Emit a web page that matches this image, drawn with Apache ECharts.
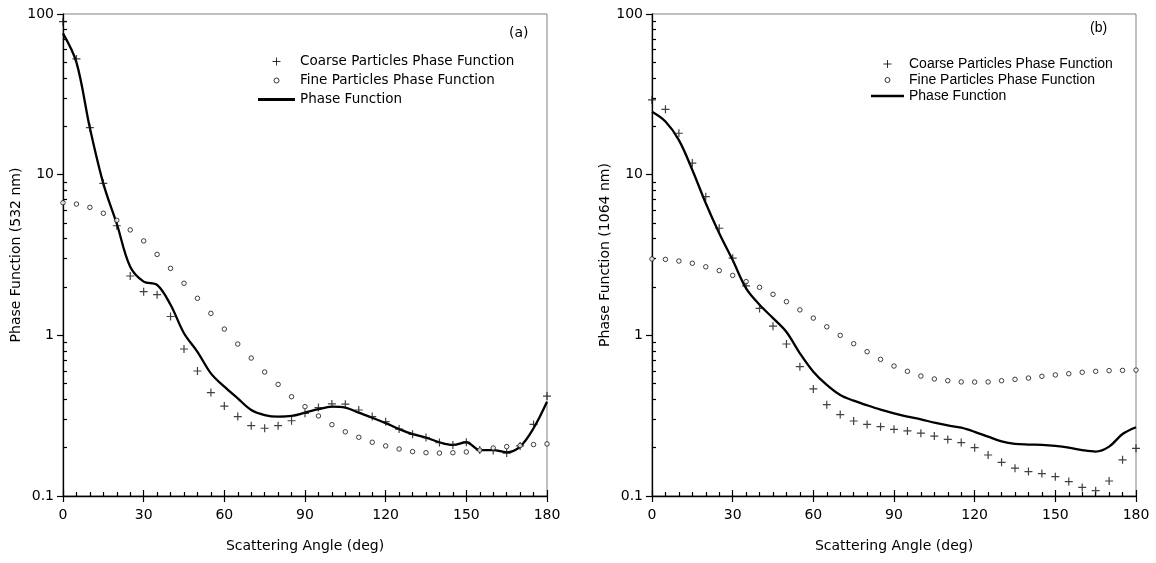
<!DOCTYPE html>
<html><head><meta charset="utf-8">
<script src="https://cdn.jsdelivr.net/npm/echarts@6/dist/echarts.min.js"></script>
<style>html,body{margin:0;padding:0;background:#fff}#c{width:1156px;height:563px}</style>
</head><body><div id="c"></div>
<script>
const angles = [0,5,10,15,20,25,30,35,40,45,50,55,60,65,70,75,80,85,90,95,100,105,110,115,120,125,130,135,140,145,150,155,160,165,170,175,180];
const coarse532 = [89.6,52.5,19.6,8.83,4.81,2.34,1.87,1.79,1.31,0.822,0.600,0.440,0.363,0.312,0.274,0.264,0.274,0.294,0.327,0.355,0.374,0.373,0.343,0.312,0.290,0.261,0.242,0.231,0.215,0.208,0.216,0.193,0.192,0.185,0.205,0.279,0.419];
const fine532 = [6.69,6.56,6.26,5.75,5.20,4.53,3.87,3.19,2.61,2.11,1.70,1.37,1.094,0.883,0.722,0.591,0.495,0.415,0.360,0.315,0.278,0.251,0.232,0.216,0.205,0.196,0.189,0.186,0.185,0.186,0.188,0.193,0.199,0.203,0.206,0.209,0.211];
const phase532 = [75.8,50,19.5,8.8,4.95,2.67,2.16,2.06,1.55,1.03,0.79,0.58,0.479,0.405,0.343,0.319,0.312,0.315,0.330,0.347,0.360,0.355,0.330,0.307,0.284,0.261,0.243,0.231,0.216,0.208,0.216,0.193,0.193,0.187,0.203,0.264,0.386];
const coarse1064 = [29.2,25.5,18.1,11.8,7.30,4.64,3.02,2.03,1.47,1.14,0.883,0.638,0.464,0.370,0.321,0.293,0.279,0.270,0.260,0.254,0.246,0.236,0.225,0.215,0.200,0.180,0.162,0.149,0.142,0.138,0.132,0.123,0.113,0.108,0.124,0.168,0.198];
const fine1064 = [2.99,2.97,2.90,2.81,2.67,2.53,2.36,2.16,1.99,1.80,1.62,1.44,1.28,1.13,1.00,0.887,0.791,0.709,0.644,0.597,0.558,0.535,0.522,0.513,0.512,0.513,0.522,0.532,0.542,0.556,0.567,0.577,0.589,0.597,0.603,0.605,0.608];
const phase1064 = [24.6,21.4,16.4,10.7,6.64,4.32,2.94,1.96,1.55,1.28,1.05,0.773,0.594,0.491,0.425,0.392,0.367,0.345,0.327,0.312,0.300,0.286,0.275,0.266,0.251,0.234,0.219,0.211,0.209,0.208,0.205,0.200,0.193,0.189,0.203,0.243,0.268];
const yTickLabels = ['0.1','1','10','100'];
const xTickLabels = ['0','30','60','90','120','150','180'];
const xMinorTicks = [5,10,15,20,25,35,40,45,50,55,65,70,75,80,85,95,100,105,110,115,125,130,135,140,145,155,160,165,170,175];
const yMinorTicks = [0.2,0.3,0.4,0.5,0.6,0.7,0.8,0.9,2,3,4,5,6,7,8,9,20,30,40,50,60,70,80,90];
const seriesNames = ['Coarse Particles Phase Function','Fine Particles Phase Function','Phase Function'];
const panelLabels = ['(a)','(b)'];
const yNames = ['Phase Function (532 nm)','Phase Function (1064 nm)'];
const xName = 'Scattering Angle (deg)';

const FF = 'DejaVu Sans';
const FF2 = 'Liberation Sans';
const zip = (ys) => angles.map((a,i) => [a, ys[i]]);
const crossPath = 'path://M0,5H10M5,0V10';
const legCross = 'path://M0,0M10,10M1,5H9M5,1V9';
const legCircle = 'path://M0,0M10,10M7.5,5A2.5,2.5,0,1,1,7.5,4.99Z';
const legLine = 'path://M0,0L40,0L40,3L0,3Z';

const grids = [
  {left:63, top:14, width:484, height:482, show:true, borderColor:'#808080', borderWidth:1},
  {left:652, top:14, width:484, height:482, show:true, borderColor:'#808080', borderWidth:1}
];
const xAxes = [], yAxes = [];
const tickLine = {color:'#000', width:1.2};
const minorLine = {color:'#000', width:1.2};
grids.forEach((g, gi) => {
  xAxes.push({type:'value', gridIndex:gi, min:0, max:180, interval:30, position:'bottom',
    axisLine:{show:true, onZero:false, lineStyle:{color:'#000', width:1.3}},
    axisTick:{show:true, inside:true, length:6, lineStyle:tickLine},
    minorTick:{show:true, splitNumber:6, length:4, lineStyle:minorLine},
    splitLine:{show:false}, minorSplitLine:{show:false},
    axisLabel:{margin:12, fontSize:14, color:'#000', fontFamily:FF,
      formatter: v => xTickLabels[Math.round(v/30)]},
    name:xName, nameLocation:'middle', nameGap:43,
    nameTextStyle:{fontSize:14, color:'#000', fontFamily:FF}});
  xAxes.push({type:'value', gridIndex:gi, min:0, max:180, interval:30, position:'bottom',
    axisLine:{show:false, onZero:false}, axisTick:{show:true, inside:false, length:6, lineStyle:tickLine},
    axisLabel:{show:false}, splitLine:{show:false}});
  yAxes.push({type:'log', logBase:10, gridIndex:gi, min:0.1, max:100, position:'left',
    axisLine:{show:true, onZero:false, lineStyle:{color:'#000', width:1.3}},
    axisTick:{show:true, inside:false, length:6, lineStyle:tickLine},
    splitLine:{show:false},
    axisLabel:{margin:9, fontSize:14, color:'#000', fontFamily:FF,
      formatter: v => yTickLabels[Math.round(Math.log10(v)) + 1]},
    name:yNames[gi], nameLocation:'middle', nameGap:36,
    nameTextStyle:{fontSize:14, color:'#000', fontFamily:FF}});
  yAxes.push({type:'log', logBase:10, gridIndex:gi, min:0.1, max:100, position:'left',
    axisLine:{show:false, onZero:false},
    axisTick:{show:true, inside:true, length:4, customValues:yMinorTicks, lineStyle:minorLine},
    axisLabel:{show:false}, splitLine:{show:false}});
});

const panels = [[coarse532, fine532, phase532],[coarse1064, fine1064, phase1064]];
const series = [];
panels.forEach((p, gi) => {
  const xi = gi*2, yi = gi*2;
  series.push({type:'line', name:seriesNames[2], xAxisIndex:xi, yAxisIndex:yi, data:zip(p[2]),
    smooth:0.35, symbol:'none', showSymbol:false, lineStyle:{color:'#000', width:2.3}, itemStyle:{color:'#000'}, z:2});
  series.push({type:'scatter', name:seriesNames[0], xAxisIndex:xi, yAxisIndex:yi, data:zip(p[0]),
    symbol:crossPath, symbolSize:8, clip:false,
    itemStyle:{color:'none', borderColor:'#111', borderWidth:1.2}, z:3});
  series.push({type:'scatter', name:seriesNames[1], xAxisIndex:xi, yAxisIndex:yi, data:zip(p[1]),
    symbol:'circle', symbolSize:4.5, clip:false,
    itemStyle:{color:'#fff', borderColor:'#111', borderWidth:1}, z:3});
});

function legendData() {
  return [
    {name:seriesNames[0], icon:legCross, itemStyle:{color:'none', borderColor:'#000', borderWidth:1}},
    {name:seriesNames[1], icon:legCircle, itemStyle:{color:'#fff', borderColor:'#000', borderWidth:1}},
    {name:seriesNames[2], icon:legLine, itemStyle:{color:'#000', borderWidth:0}}
  ];
}

const option = {
  backgroundColor:'#fff',
  animation:false,
  title:[
    {text:panelLabels[0], left:509, top:26, padding:0, textStyle:{fontSize:14, fontWeight:'normal', color:'#000', fontFamily:FF}},
    {text:panelLabels[1], left:1090, top:21, padding:0, textStyle:{fontSize:14, fontWeight:'normal', color:'#000', fontFamily:FF2}}
  ],
  legend:[
    {orient:'vertical', left:258, top:52, padding:0, itemGap:0, itemWidth:37, itemHeight:10, selectedMode:false,
      data:legendData(), textStyle:{fontSize:13.5, lineHeight:19, color:'#000', fontFamily:FF}},
    {orient:'vertical', left:871, top:56, padding:0, itemGap:0, itemWidth:33, itemHeight:10, selectedMode:false,
      data:legendData(), textStyle:{fontSize:14, lineHeight:16, color:'#000', fontFamily:FF2}}
  ],
  grid:grids, xAxis:xAxes, yAxis:yAxes, series:series
};
const chart = echarts.init(document.getElementById('c'), null, {renderer:'canvas'});
chart.setOption(option);
</script></body></html>
